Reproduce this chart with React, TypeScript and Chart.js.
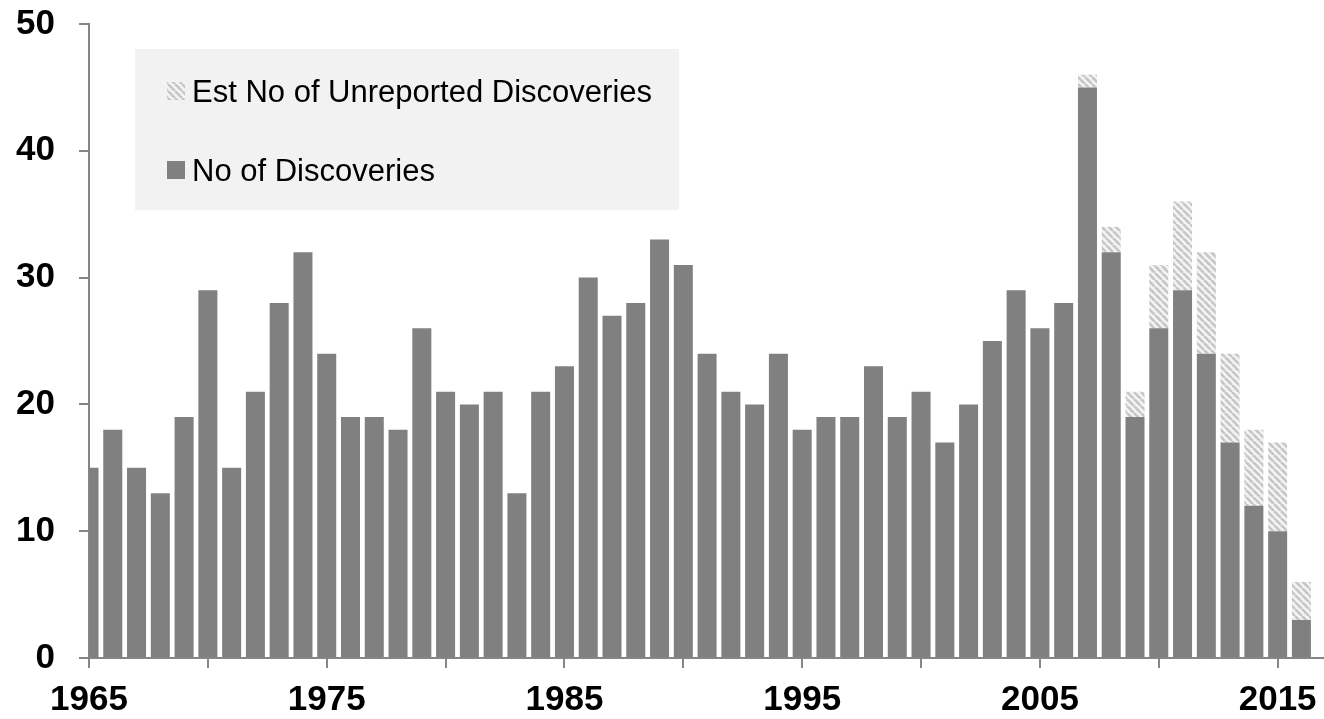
import React, { useEffect, useRef } from "react";
import { Chart, registerables } from "chart.js";

Chart.register(...registerables);

// Discovery years shown on the horizontal axis
const years = [
  1965, 1966, 1967, 1968, 1969, 1970, 1971, 1972, 1973, 1974,
  1975, 1976, 1977, 1978, 1979, 1980, 1981, 1982, 1983, 1984,
  1985, 1986, 1987, 1988, 1989, 1990, 1991, 1992, 1993, 1994,
  1995, 1996, 1997, 1998, 1999, 2000, 2001, 2002, 2003, 2004,
  2005, 2006, 2007, 2008, 2009, 2010, 2011, 2012, 2013, 2014,
  2015, 2016,
];

// Reported discoveries per year
const discoveries = [
  15, 18, 15, 13, 19, 29, 15, 21, 28, 32,
  24, 19, 19, 18, 26, 21, 20, 21, 13, 21,
  23, 30, 27, 28, 33, 31, 24, 21, 20, 24,
  18, 19, 19, 23, 19, 21, 17, 20, 25, 29,
  26, 28, 45, 32, 19, 26, 29, 24, 17, 12,
  10, 3,
];

// Estimated unreported discoveries stacked on top
const unreported = [
  0, 0, 0, 0, 0, 0, 0, 0, 0, 0,
  0, 0, 0, 0, 0, 0, 0, 0, 0, 0,
  0, 0, 0, 0, 0, 0, 0, 0, 0, 0,
  0, 0, 0, 0, 0, 0, 0, 0, 0, 0,
  0, 0, 1, 2, 2, 5, 7, 8, 7, 6,
  7, 3,
];

const xLabelYears = [1965, 1975, 1985, 1995, 2005, 2015];
const yTickValues = [0, 10, 20, 30, 40, 50];
const legendLabels = ["Est No of Unreported Discoveries", "No of Discoveries"];

const BAR_GREY = "#808080";
const AXIS_GREY = "#868686";
const FONT_FAMILY = '"Liberation Sans", Arial, Helvetica, sans-serif';

function makeHatch(): CanvasPattern | string {
  const size = 7;
  const c = document.createElement("canvas");
  c.width = size;
  c.height = size;
  const g = c.getContext("2d");
  if (!g) return "#cccccc";
  g.fillStyle = "#f4f4f4";
  g.fillRect(0, 0, size, size);
  g.strokeStyle = "#c6c6c6";
  g.lineWidth = 2.6;
  for (let k = -1; k <= 1; k++) {
    g.beginPath();
    g.moveTo(k * size, 0);
    g.lineTo(k * size + size, size);
    g.stroke();
  }
  return g.createPattern(c, "repeat") || "#cccccc";
}

export default function App() {
  const canvasRef = useRef<HTMLCanvasElement | null>(null);

  useEffect(() => {
    const canvas = canvasRef.current;
    if (!canvas) return;
    const hatch = makeHatch();

    // Boxed legend drawn in the upper-left of the plot
    const legendBox = {
      id: "legendBox",
      afterDraw(chart: Chart) {
        const { ctx, chartArea } = chart;
        const x0 = chartArea.left + 46;
        const y0 = chartArea.top + 25;
        ctx.save();
        ctx.fillStyle = "#f2f2f2";
        ctx.fillRect(x0, y0, 544, 161);
        const swatches = [hatch, BAR_GREY];
        const baselines = [y0 + 53, y0 + 132];
        ctx.font = `31px ${FONT_FAMILY}`;
        ctx.textBaseline = "alphabetic";
        ctx.textAlign = "left";
        legendLabels.forEach((label, i) => {
          ctx.fillStyle = swatches[i] as any;
          ctx.fillRect(x0 + 32, baselines[i] - 20, 18, 18);
          ctx.fillStyle = "#000000";
          ctx.fillText(label, x0 + 57, baselines[i]);
        });
        ctx.restore();
      },
    };

    const chart = new Chart(canvas, {
      type: "bar",
      data: {
        datasets: [
          {
            label: legendLabels[1],
            data: years.map((yr, i) => ({ x: yr, y: discoveries[i] })),
            backgroundColor: BAR_GREY,
            barPercentage: 1,
            categoryPercentage: 0.8,
            stack: "total",
          },
          {
            label: legendLabels[0],
            data: years.map((yr, i) => ({ x: yr, y: unreported[i] })),
            backgroundColor: hatch as any,
            barPercentage: 1,
            categoryPercentage: 0.8,
            stack: "total",
          },
        ],
      },
      options: {
        animation: false,
        responsive: false,
        maintainAspectRatio: false,
        layout: { padding: { top: 24, left: 0, right: 0, bottom: 0 } },
        plugins: {
          legend: { display: false },
          tooltip: { enabled: false },
        },
        scales: {
          x: {
            type: "linear",
            min: 1965,
            max: 2016.95,
            stacked: true,
            offset: false,
            grid: {
              display: true,
              offset: false,
              drawOnChartArea: false,
              drawTicks: true,
              tickLength: 10,
              color: AXIS_GREY,
              lineWidth: 2,
            },
            border: { display: true, color: AXIS_GREY, width: 2 },
            ticks: {
              stepSize: 5,
              autoSkip: false,
              includeBounds: false,
              maxRotation: 0,
              padding: 11,
              color: "#000000",
              font: { family: FONT_FAMILY, size: 35, weight: "bold" },
              callback: (v: any) => (xLabelYears.includes(Number(v)) ? String(v) : ""),
            },
            afterFit: (scale: any) => {
              scale.height = 61;
              scale.paddingLeft = 0;
              scale.paddingRight = 0;
            },
          },
          y: {
            min: 0,
            max: 50,
            stacked: true,
            grid: {
              display: true,
              drawOnChartArea: false,
              drawTicks: true,
              tickLength: 10,
              color: AXIS_GREY,
              lineWidth: 2,
            },
            border: { display: true, color: AXIS_GREY, width: 2 },
            ticks: {
              stepSize: 10,
              padding: 24,
              color: "#000000",
              font: { family: FONT_FAMILY, size: 35, weight: "bold" },
              callback: (v: any) => (yTickValues.includes(Number(v)) ? String(v) : ""),
            },
            afterFit: (scale: any) => {
              scale.width = 89;
              scale.paddingTop = 0;
              scale.paddingBottom = 0;
            },
          },
        },
      } as any,
      plugins: [legendBox],
    });

    return () => {
      chart.destroy();
    };
  }, []);

  return (
    <div style={{ position: "fixed", left: 0, top: 0, width: 1324, height: 719, background: "#ffffff" }}>
      <canvas ref={canvasRef} width={1324} height={719} />
    </div>
  );
}
